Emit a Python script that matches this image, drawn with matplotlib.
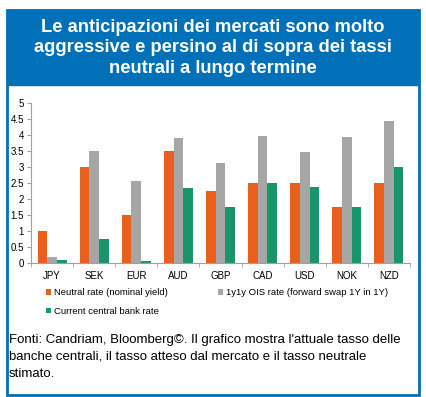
import numpy as np
import matplotlib
matplotlib.use("Agg")
import matplotlib.pyplot as plt
from matplotlib.patches import Rectangle

plt.rcParams['font.family'] = ['Liberation Sans', 'DejaVu Sans']

currencies = ["JPY", "SEK", "EUR", "AUD", "GBP", "CAD", "USD", "NOK", "NZD"]
neutral = [1.0, 3.0, 1.5, 3.5, 2.25, 2.5, 2.5, 1.75, 2.5]
ois_1y1y = [0.2, 3.5, 2.57, 3.92, 3.13, 3.96, 3.47, 3.93, 4.45]
current = [0.1, 0.75, 0.05, 2.35, 1.75, 2.5, 2.38, 1.75, 3.01]
ytick_labels = ["0", "0.5", "1", "1.5", "2", "2.5", "3", "3.5", "4", "4.5", "5"]

title = ("Le anticipazioni dei mercati sono molto\n"
         "aggressive e persino al di sopra dei tassi\n"
         "neutrali a lungo termine")
caption = ("Fonti: Candriam, Bloomberg\u00a9. Il grafico mostra l'attuale tasso delle\n"
           "banche centrali, il tasso atteso dal mercato e il tasso neutrale\n"
           "stimato.")

blue = "#0070B8"
orange = "#E8601C"
grey = "#A6A6A6"
green = "#17966C"

W, H = 427, 397
fig = plt.figure(figsize=(W / 100, H / 100), dpi=100)

# frame and title band
fig.patches.append(Rectangle((7 / W, 1 - 395 / H), 412 / W, 385 / H,
                             transform=fig.transFigure, fill=False,
                             edgecolor=blue, linewidth=2))
fig.patches.append(Rectangle((7 / W, 1 - 85 / H), 412 / W, 75 / H,
                             transform=fig.transFigure, facecolor=blue,
                             edgecolor=blue))
fig.text(213 / W, 1 - 48 / H, title, ha="center", va="center", color="white",
         fontsize=13.2, fontweight="bold", linespacing=1.3)

ax = fig.add_axes([31 / W, 1 - 263 / H, 379 / W, 160 / H])
x = np.arange(len(currencies))
bw = 0.23
ax.bar(x - bw, neutral, bw, color=orange, label="Neutral rate (nominal yield)")
ax.bar(x, ois_1y1y, bw, color=grey, label="1y1y OIS rate (forward swap 1Y in 1Y)")
ax.bar(x + bw, current, bw, color=green, label="Current central bank rate")

ax.set_xlim(-0.5, len(currencies) - 0.5)
ax.set_ylim(0, 5)
ax.set_yticks(np.arange(0, 5.01, 0.5))
ax.set_yticklabels(ytick_labels)
ax.set_xticks(x)
ax.set_xticklabels(currencies)
ax.set_xticks(np.arange(-0.5, len(currencies)), minor=True)
ax.tick_params(axis="x", which="major", length=0, pad=6, labelsize=7)
ax.tick_params(axis="x", which="minor", length=3, color="#A0A0A0")
ax.tick_params(axis="y", length=3, color="#A0A0A0", labelsize=7, pad=2)
for s in ["top", "right"]:
    ax.spines[s].set_visible(False)
for s in ["left", "bottom"]:
    ax.spines[s].set_color("#A0A0A0")
    ax.spines[s].set_linewidth(0.8)

h, l = ax.get_legend_handles_labels()
order = [0, 2, 1]
fig.legend([h[i] for i in order], [l[i] for i in order], ncol=2,
           loc="upper left", bbox_to_anchor=(46 / W, 1 - 288 / H),
           frameon=False, fontsize=6.8, handlelength=0.55, handleheight=0.55,
           handletextpad=0.3, columnspacing=5.3, labelspacing=1.05,
           borderaxespad=0, borderpad=0)

fig.text(9 / W, 1 - 334 / H, caption, ha="left", va="top", fontsize=9.5,
         linespacing=1.55, color="black")

fig.savefig("out.png", dpi=100)
